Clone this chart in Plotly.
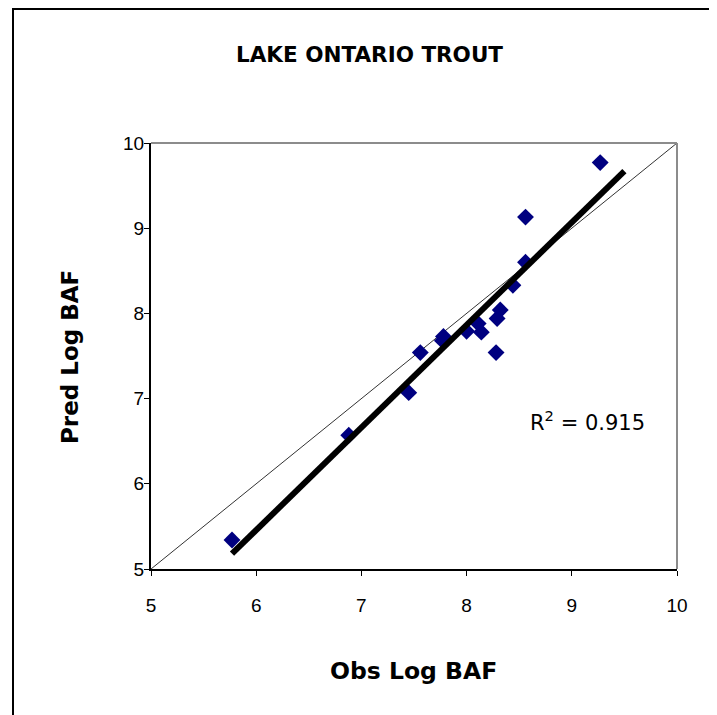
import plotly.graph_objects as go

# Data
obs_log_baf = [5.77, 6.88, 7.45, 7.56, 7.78, 7.77, 8.00, 8.11, 8.14, 8.28, 8.29, 8.32, 8.44, 8.56, 8.56, 9.27]
pred_log_baf = [5.34, 6.57, 7.07, 7.54, 7.73, 7.68, 7.79, 7.88, 7.78, 7.54, 7.94, 8.04, 8.33, 8.60, 9.13, 9.77]

trend_x = [5.77, 9.50]
trend_y = [5.18, 9.67]

one_to_one_x = [5, 10]
one_to_one_y = [5, 10]

tick_vals = [5, 6, 7, 8, 9, 10]
tick_text = ["5", "6", "7", "8", "9", "10"]

title_text = "LAKE ONTARIO TROUT"
x_title = "Obs Log BAF"
y_title = "Pred Log BAF"
r2_text = "R<sup>2</sup> = 0.915"

# page has an 8px body margin; work in page pixels and subtract it
OFF = 8
W, H = 717 - OFF, 715 - OFF
PL, PR, PT, PB = 151, 677, 143, 569  # plot area in page pixels
L, T = PL - OFF, PT - OFF
pw, ph = PR - PL, PB - PT
R = W - L - pw
B = H - T - ph

def px_to_paper_x(px):
    return (px - PL) / pw

def px_to_paper_y(py):
    return (PB - py) / ph

font_main = "Liberation Sans, Arial, sans-serif"
font_wide = "DejaVu Sans, Liberation Sans, sans-serif"

fig = go.Figure()

fig.add_trace(go.Scatter(
    x=one_to_one_x, y=one_to_one_y, mode="lines",
    line=dict(color="#333333", width=1), hoverinfo="skip", showlegend=False))

fig.add_trace(go.Scatter(
    x=obs_log_baf, y=pred_log_baf, mode="markers",
    marker=dict(symbol="diamond", size=13, color="#000080", line=dict(width=0)),
    showlegend=False))

fig.add_trace(go.Scatter(
    x=trend_x, y=trend_y, mode="lines",
    line=dict(color="#000000", width=6), hoverinfo="skip", showlegend=False))

fig.update_xaxes(
    range=[5, 10], tickvals=tick_vals, ticktext=tick_text,
    showgrid=False, zeroline=False, showline=True, linecolor="#000000", linewidth=2,
    ticks="outside", ticklen=5, tickwidth=1, tickcolor="#000000",
    ticklabelstandoff=13,
    tickfont=dict(family=font_main, size=19, color="#000000"))
fig.update_yaxes(
    range=[5, 10], tickvals=tick_vals, ticktext=tick_text,
    showgrid=False, zeroline=False, showline=True, linecolor="#000000", linewidth=2,
    ticks="outside", ticklen=5, tickwidth=1, tickcolor="#000000",
    ticklabelstandoff=-4,
    tickfont=dict(family=font_main, size=19, color="#000000"))

shapes = [
    # gray top/right frame of plot area
    dict(type="line", xref="paper", yref="paper", x0=0, x1=1, y0=1, y1=1,
         line=dict(color="#8c8c8c", width=2)),
    dict(type="line", xref="paper", yref="paper", x0=1, x1=1, y0=0, y1=1,
         line=dict(color="#8c8c8c", width=2)),
    # outer chart border
    dict(type="rect", xref="paper", yref="paper",
         x0=px_to_paper_x(13), x1=px_to_paper_x(740),
         y0=px_to_paper_y(740), y1=px_to_paper_y(9),
         line=dict(color="#000000", width=2), layer="below"),
]

annotations = [
    dict(text="<b>" + title_text + "</b>", xref="paper", yref="paper",
         x=px_to_paper_x(369), y=px_to_paper_y(55), showarrow=False,
         xanchor="center", yanchor="middle",
         font=dict(family=font_wide, size=21.5, color="#000000")),
    dict(text="<b>" + x_title + "</b>", xref="paper", yref="paper",
         x=px_to_paper_x(413), y=px_to_paper_y(671), showarrow=False,
         xanchor="center", yanchor="middle",
         font=dict(family=font_wide, size=23.5, color="#000000")),
    dict(text="<b>" + y_title + "</b>", xref="paper", yref="paper",
         x=px_to_paper_x(70), y=px_to_paper_y(357), showarrow=False,
         xanchor="center", yanchor="middle", textangle=-90,
         font=dict(family=font_wide, size=23, color="#000000")),
    dict(text=r2_text, xref="paper", yref="paper",
         x=px_to_paper_x(528), y=px_to_paper_y(421), showarrow=False,
         xanchor="left", yanchor="middle",
         font=dict(family=font_wide, size=21, color="#000000")),
]

fig.update_layout(
    width=W, height=H,
    margin=dict(l=L, r=R, t=T, b=B, autoexpand=False),
    paper_bgcolor="#ffffff", plot_bgcolor="#ffffff",
    shapes=shapes, annotations=annotations,
    showlegend=False)

fig.write_html("out.html")
